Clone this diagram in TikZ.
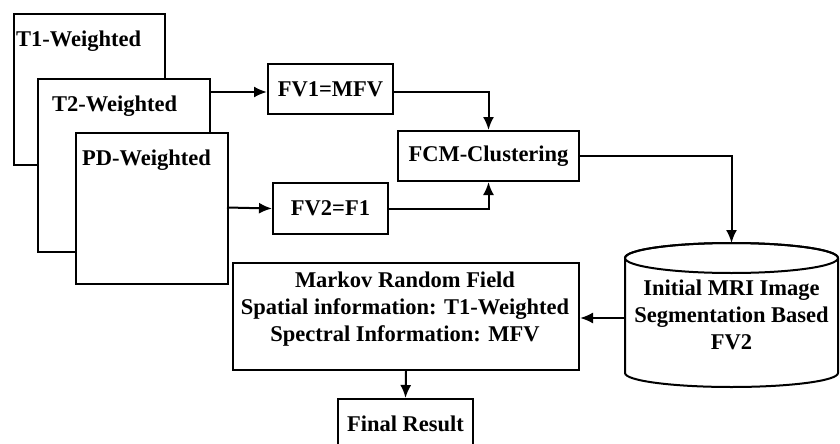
\documentclass[tikz,border=0pt]{standalone}
\usepackage{fontspec}
\setmainfont{Liberation Serif}
\usetikzlibrary{arrows.meta}

\begin{document}
\begin{tikzpicture}[x=1pt,y=-1pt,
  lw/.style={line width=2pt},
  every node/.style={font=\fontsize{22.5}{27}\selectfont\bfseries},
  box/.style={lw,draw,fill=white,inner sep=0pt,anchor=north west},
  link/.style={lw,-{Latex[length=13pt,width=11pt]}}]
\useasboundingbox (0,0) rectangle (840,444);

% stacked image sheets
\node[box,minimum width=151pt,minimum height=151pt] (t1) at (13,13) {};
\node[anchor=west,inner sep=0pt] (t1txt) at (16,41) {T1-Weighted};
\node[box,minimum width=172pt,minimum height=173pt] (t2) at (37,78) {};
\node[anchor=west,inner sep=0pt] (t2txt) at (52,106) {T2-Weighted};
\node[box,minimum width=152pt,minimum height=151pt] (pd) at (75,132) {};
\node[anchor=west,inner sep=0pt] (pdtxt) at (82,160) {PD-Weighted};

% feature vectors and clustering
\node[box,minimum width=125pt,minimum height=50pt] (fv1) at (267,63) {};
\node (fv1txt) at (fv1.center) {FV1=MFV};
\node[box,minimum width=115pt,minimum height=51pt] (fv2) at (272,182) {};
\node (fv2txt) at (fv2.center) {FV2=F1};
\node[box,minimum width=181pt,minimum height=50pt] (fcm) at (397,130) {};
\node (fcmtxt) at (fcm.center) {FCM-Clustering};

% database cylinder
\coordinate (dbtop) at (731.5,243);
\coordinate (dbw) at (625,318);
\draw[lw,fill=white] (625,258) -- (625,373)
  arc[start angle=180,end angle=0,x radius=106.5,y radius=14]
  -- (838,258) arc[start angle=0,end angle=-180,x radius=106.5,y radius=15] -- cycle;
\draw[lw] (731.5,258) ellipse[x radius=106.5,y radius=15];
\node[align=center] (db) at (731.5,315) {Initial MRI Image\\Segmentation Based\\FV2};

% MRF and final result
\node[box,minimum width=346pt,minimum height=107pt] (mrf) at (232,262) {};
\node[align=center] (mrftxt) at (405,309) {Markov Random Field\\Spatial information: T1-Weighted\\Spectral Information: MFV};
\node[box,minimum width=135pt,minimum height=50pt] (fin) at (337,398) {};
\node (fintxt) at (fin.center) {Final Result};

% connectors
\coordinate (a1) at (209,92);
\coordinate (a2) at (227,207.5);
\draw[link] (a1) -- (a1 -| fv1.west);
\draw[link] (a2) -- (fv2.west);
\draw[link] (a1 -| fv1.east) -| (fcm.north);
\draw[link] (fv2.east) -| (fcm.south);
\draw[link] (fcm.east) -| (dbtop);
\draw[link] (dbw) -- (dbw -| mrf.east);
\draw[link] (mrf.south) -- (fin.north);
\end{tikzpicture}
\end{document}
